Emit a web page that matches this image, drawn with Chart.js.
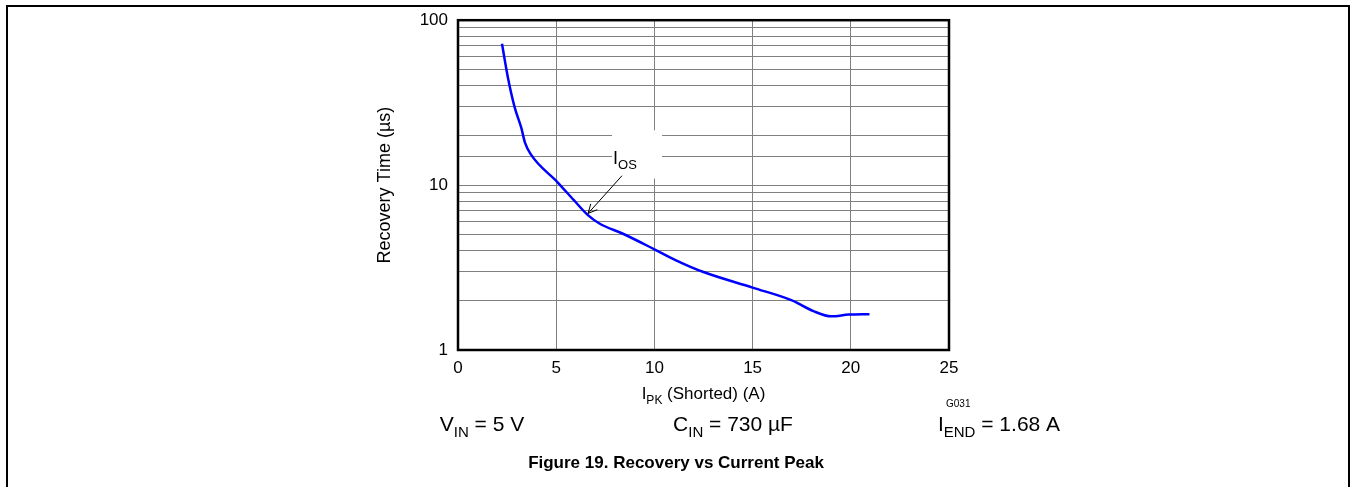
<!DOCTYPE html>
<html>
<head>
<meta charset="utf-8">
<script src="https://cdn.jsdelivr.net/npm/chart.js@4/dist/chart.umd.min.js"></script>
<style>
  html, body { margin: 0; padding: 0; background: #fff; }
  #wrap { width: 1351px; height: 487px; position: relative; }
</style>
</head>
<body>
<div id="wrap"><canvas id="chartRecovery"></canvas></div>
<script>
// valores
const ipk = [2.24, 2.54, 2.89, 3.22, 3.41, 3.70, 5.07, 5.9, 6.6, 7.2, 8.4, 10.0, 11.1, 12.5, 15.0, 17.0, 18.1, 19.0, 19.9, 20.95];
const recoveryTime = [72, 45, 29.5, 22.3, 18.1, 15.4, 10.4, 8.1, 6.6, 5.85, 5.07, 4.08, 3.5, 2.97, 2.39, 2.0, 1.72, 1.60, 1.64, 1.65];
const xTicks = [0, 5, 10, 15, 20, 25];
const yTickLabels = [1, 10, 100];

// anotacion I_OS (coordenadas en unidades de datos)
const iosLabel = { x: 8.5, y: 14.7 };
const iosArrowFrom = { x: 8.35, y: 11.4 };
const iosArrowTo = { x: 6.62, y: 6.73 };
const iosBox = { x0: 7.84, x1: 10.39, y0: 21.5, y1: 10.95 };

const FONT = "'Liberation Sans', Arial, sans-serif";

// dibuja texto con subindices: parts = [[texto, esSub], ...]
const drawSub = (ctx, parts, x, y, size, align) => {
	const subSize = Math.round(size * 0.72);
	let total = 0;
	parts.forEach(p => {
		ctx.font = (p[1] ? subSize : size) + "px " + FONT;
		total += ctx.measureText(p[0]).width;
	});
	let cx = align === 'center' ? x - total / 2 : x;
	ctx.textAlign = 'left';
	ctx.textBaseline = 'alphabetic';
	parts.forEach(p => {
		ctx.font = (p[1] ? subSize : size) + "px " + FONT;
		ctx.fillText(p[0], cx, p[1] ? y + size * 0.28 : y);
		cx += ctx.measureText(p[0]).width;
	});
};

const extras = {
	id: 'extras',
	afterDraw(chart) {
		const ctx = chart.ctx;
		const a = chart.chartArea;
		const xs = chart.scales.x, ys = chart.scales.y;
		ctx.save();

		// marco exterior
		ctx.strokeStyle = '#000';
		ctx.lineWidth = 2;
		ctx.beginPath();
		ctx.moveTo(7, 487);
		ctx.lineTo(7, 6);
		ctx.lineTo(1349, 6);
		ctx.lineTo(1349, 487);
		ctx.stroke();

		// caja blanca de la etiqueta
		const bx0 = xs.getPixelForValue(iosBox.x0), bx1 = xs.getPixelForValue(iosBox.x1);
		const by0 = ys.getPixelForValue(iosBox.y0), by1 = ys.getPixelForValue(iosBox.y1);
		ctx.fillStyle = '#fff';
		ctx.fillRect(bx0, by0, bx1 - bx0, by1 - by0);

		ctx.fillStyle = '#000';
		drawSub(ctx, [['I', false], ['OS', true]], xs.getPixelForValue(iosLabel.x), ys.getPixelForValue(iosLabel.y) + 6, 18, 'center');

		// flecha
		const fx = xs.getPixelForValue(iosArrowFrom.x), fy = ys.getPixelForValue(iosArrowFrom.y);
		const tx = xs.getPixelForValue(iosArrowTo.x), ty = ys.getPixelForValue(iosArrowTo.y);
		ctx.strokeStyle = '#000';
		ctx.lineWidth = 1;
		ctx.beginPath();
		ctx.moveTo(fx, fy);
		ctx.lineTo(tx, ty);
		const ang = Math.atan2(ty - fy, tx - fx);
		ctx.moveTo(tx, ty);
		ctx.lineTo(tx - 10 * Math.cos(ang - 0.45), ty - 10 * Math.sin(ang - 0.45));
		ctx.moveTo(tx, ty);
		ctx.lineTo(tx - 10 * Math.cos(ang + 0.45), ty - 10 * Math.sin(ang + 0.45));
		ctx.stroke();

		// borde del area
		ctx.lineWidth = 2.5;
		ctx.strokeRect(a.left, a.top, a.right - a.left, a.bottom - a.top);

		// titulo eje x
		drawSub(ctx, [['I', false], ['PK', true], [' (Shorted) (A)', false]], (a.left + a.right) / 2, 399, 17, 'center');

		ctx.font = "10px " + FONT;
		ctx.textAlign = 'left';
		ctx.fillText('G031', 946, 407);

		drawSub(ctx, [['V', false], ['IN', true], [' = 5 V', false]], 482, 431, 21, 'center');
		drawSub(ctx, [['C', false], ['IN', true], [' = 730 µF', false]], 733, 431, 21, 'center');
		drawSub(ctx, [['I', false], ['END', true], [' = 1.68 A', false]], 999, 431, 21, 'center');

		ctx.font = "bold 17px " + FONT;
		ctx.textAlign = 'center';
		ctx.fillText('Figure 19. Recovery vs Current Peak', 676, 468);
		ctx.restore();
	}
};

// @ts-expect-error
const chartRecovery = new Chart(
	document.getElementById('chartRecovery'),
	{
		type: 'line',
		data: {
			datasets: [{
				data: ipk.map((v, i) => ({ x: v, y: recoveryTime[i] })),
				borderColor: '#0000ff',
				borderWidth: 2.5,
				pointRadius: 0,
				cubicInterpolationMode: 'monotone',
				fill: false,
			}]
		},
		options: {
			responsive: true,
			maintainAspectRatio: false,
			animation: false,
			layout: { padding: { left: 372, top: 19, right: 402, bottom: 0 } },
			plugins: {
				legend: { display: false },
				tooltip: { enabled: false }
			},
			scales: {
				x: {
					type: 'linear',
					min: 0,
					max: 25,
					afterBuildTicks: (s) => { s.ticks = xTicks.map(v => ({ value: v })); },
					afterFit: (s) => { s.height = 137; },
					grid: { color: '#808080', lineWidth: 1, drawTicks: false },
					border: { display: false },
					ticks: { padding: 8, color: '#000', font: { family: FONT, size: 17 } }
				},
				y: {
					type: 'logarithmic',
					min: 1,
					max: 100,
					afterFit: (s) => { s.width = 86; },
					grid: { color: '#808080', lineWidth: 1, drawTicks: false },
					border: { display: false },
					title: {
						display: true,
						text: 'Recovery Time (µs)',
						color: '#000',
						font: { family: FONT, size: 18 },
						padding: { top: 2, bottom: 0 }
					},
					ticks: {
						autoSkip: false,
						padding: 10,
						color: '#000',
						font: { family: FONT, size: 17 },
						callback: (v) => yTickLabels.includes(v) ? String(v) : ''
					}
				}
			}
		},
		plugins: [extras]
	}
);
</script>
</body>
</html>
